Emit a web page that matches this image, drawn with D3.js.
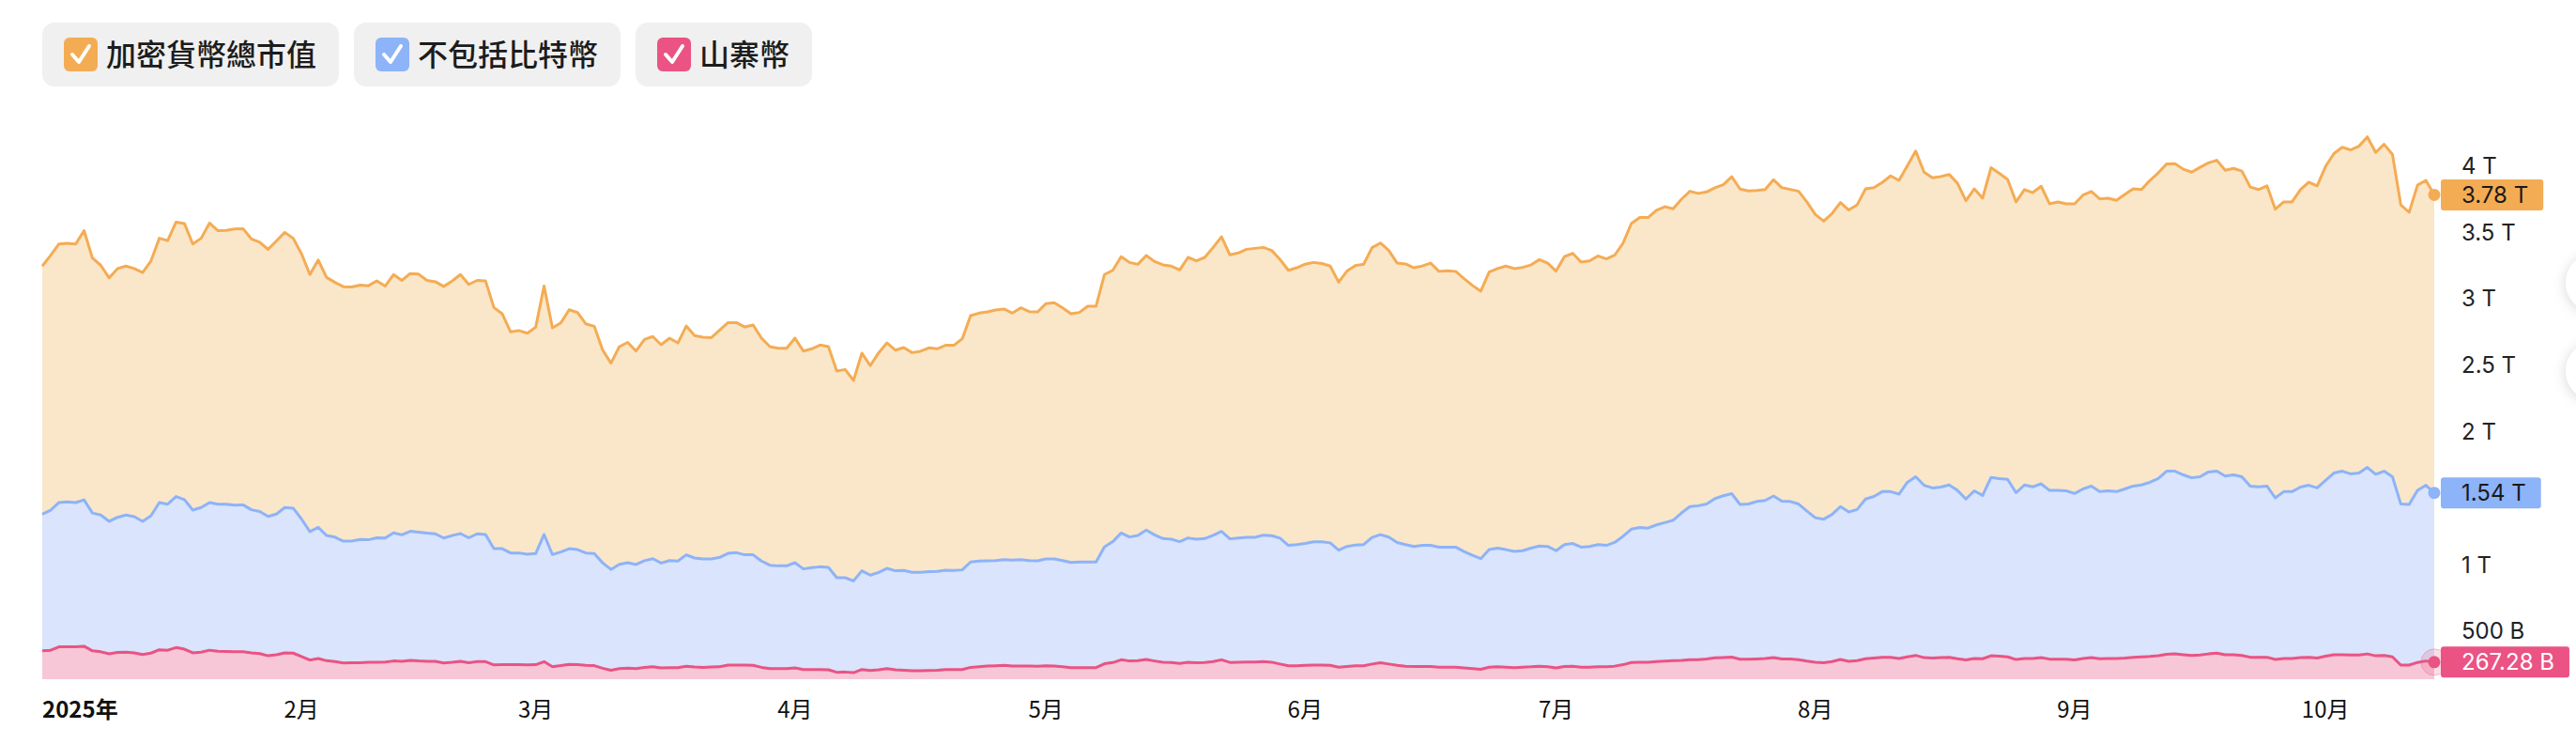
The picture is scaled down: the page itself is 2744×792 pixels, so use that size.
<!DOCTYPE html>
<html>
<head>
<meta charset="utf-8">
<script src="https://cdn.jsdelivr.net/npm/d3@7"></script>
<style>
  body { margin: 0; background: #fff; }
  svg { display: block; font-family: "Noto Sans CJK TC", "Noto Sans", sans-serif; }
  .tick-label { font-family: Inter, "Noto Sans", sans-serif; font-size: 24px; fill: #222; }
  .x-label { font-family: "Noto Sans CJK TC", sans-serif; font-size: 24px; fill: #111; }
</style>
</head>
<body>
<svg id="chart" width="2744" height="792"></svg>
<script>
// daily values in trillions USD, starting 2025-01-01
const startDate = new Date(2025, 0, 1)

const totalCap = [
  3.245, 3.325, 3.411, 3.416, 3.411, 3.511, 3.305, 3.250, 3.156, 3.226,
  3.245, 3.226, 3.196, 3.283, 3.454, 3.436, 3.575, 3.565, 3.411, 3.454,
  3.568, 3.511, 3.513, 3.523, 3.526, 3.449, 3.424, 3.370, 3.434, 3.498,
  3.454, 3.337, 3.181, 3.290, 3.159, 3.122, 3.090, 3.087, 3.102, 3.097,
  3.134, 3.094, 3.181, 3.137, 3.189, 3.184, 3.137, 3.127, 3.092, 3.132,
  3.181, 3.107, 3.137, 3.134, 2.933, 2.886, 2.750, 2.760, 2.740, 2.785,
  3.094, 2.780, 2.817, 2.916, 2.896, 2.810, 2.792, 2.614, 2.515, 2.639,
  2.671, 2.606, 2.693, 2.715, 2.653, 2.703, 2.667, 2.794, 2.722, 2.710,
  2.707, 2.764, 2.820, 2.820, 2.787, 2.802, 2.703, 2.639, 2.627, 2.627,
  2.703, 2.606, 2.623, 2.651, 2.639, 2.455, 2.467, 2.385, 2.590, 2.496,
  2.592, 2.667, 2.613, 2.632, 2.594, 2.604, 2.630, 2.623, 2.649, 2.649,
  2.698, 2.872, 2.891, 2.900, 2.915, 2.922, 2.891, 2.931, 2.903, 2.900,
  2.962, 2.969, 2.931, 2.886, 2.896, 2.943, 2.943, 3.181, 3.213, 3.315,
  3.272, 3.258, 3.324, 3.279, 3.254, 3.244, 3.216, 3.310, 3.284, 3.310,
  3.385, 3.465, 3.329, 3.343, 3.371, 3.378, 3.385, 3.362, 3.294, 3.213,
  3.232, 3.259, 3.272, 3.264, 3.245, 3.124, 3.207, 3.248, 3.259, 3.383,
  3.418, 3.362, 3.267, 3.261, 3.232, 3.245, 3.267, 3.205, 3.210, 3.205,
  3.151, 3.099, 3.056, 3.199, 3.226, 3.245, 3.226, 3.235, 3.253, 3.294,
  3.267, 3.207, 3.316, 3.340, 3.275, 3.283, 3.321, 3.299, 3.326, 3.416,
  3.564, 3.610, 3.610, 3.664, 3.691, 3.675, 3.748, 3.807, 3.791, 3.802,
  3.834, 3.856, 3.916, 3.824, 3.810, 3.813, 3.821, 3.894, 3.834, 3.821,
  3.807, 3.726, 3.632, 3.583, 3.640, 3.722, 3.666, 3.705, 3.825, 3.834,
  3.873, 3.923, 3.889, 3.998, 4.110, 3.951, 3.909, 3.917, 3.934, 3.867,
  3.736, 3.825, 3.755, 3.984, 3.942, 3.895, 3.727, 3.820, 3.797, 3.845,
  3.713, 3.727, 3.713, 3.713, 3.778, 3.806, 3.750, 3.755, 3.739, 3.783,
  3.825, 3.820, 3.889, 3.945, 4.012, 4.015, 3.973, 3.951, 3.987, 4.021,
  4.040, 3.965, 3.979, 3.959, 3.839, 3.820, 3.848, 3.672, 3.727, 3.727,
  3.820, 3.875, 3.848, 3.993, 4.090, 4.138, 4.118, 4.146, 4.216, 4.099,
  4.160, 4.085, 3.705, 3.649, 3.853, 3.889, 3.780
]

const exBitcoin = [
  1.380, 1.410, 1.467, 1.472, 1.467, 1.487, 1.388, 1.373, 1.326, 1.356,
  1.373, 1.361, 1.326, 1.368, 1.467, 1.455, 1.512, 1.489, 1.410, 1.430,
  1.467, 1.455, 1.455, 1.447, 1.450, 1.413, 1.400, 1.363, 1.380, 1.430,
  1.425, 1.343, 1.249, 1.281, 1.219, 1.207, 1.177, 1.177, 1.190, 1.187,
  1.202, 1.200, 1.239, 1.224, 1.251, 1.244, 1.237, 1.232, 1.200, 1.219,
  1.234, 1.202, 1.232, 1.227, 1.120, 1.120, 1.088, 1.088, 1.078, 1.083,
  1.227, 1.076, 1.095, 1.120, 1.113, 1.088, 1.083, 1.014, 0.964, 1.002,
  1.015, 1.001, 1.030, 1.045, 1.012, 1.031, 1.027, 1.074, 1.050, 1.043,
  1.043, 1.055, 1.085, 1.090, 1.074, 1.074, 1.027, 0.996, 0.991, 0.991,
  1.015, 0.968, 0.977, 0.984, 0.979, 0.902, 0.902, 0.878, 0.954, 0.921,
  0.942, 0.972, 0.954, 0.956, 0.942, 0.942, 0.947, 0.949, 0.958, 0.956,
  0.961, 1.020, 1.027, 1.029, 1.031, 1.038, 1.034, 1.038, 1.031, 1.029,
  1.043, 1.043, 1.031, 1.017, 1.020, 1.020, 1.020, 1.133, 1.173, 1.238,
  1.208, 1.220, 1.260, 1.224, 1.196, 1.191, 1.173, 1.201, 1.191, 1.196,
  1.220, 1.250, 1.194, 1.200, 1.205, 1.205, 1.222, 1.218, 1.199, 1.145,
  1.151, 1.159, 1.172, 1.172, 1.164, 1.110, 1.137, 1.148, 1.151, 1.205,
  1.226, 1.207, 1.167, 1.151, 1.137, 1.145, 1.145, 1.132, 1.132, 1.132,
  1.099, 1.070, 1.045, 1.113, 1.124, 1.113, 1.099, 1.105, 1.124, 1.140,
  1.137, 1.105, 1.151, 1.159, 1.132, 1.137, 1.151, 1.145, 1.167, 1.213,
  1.267, 1.280, 1.275, 1.299, 1.316, 1.334, 1.389, 1.437, 1.443, 1.456,
  1.497, 1.518, 1.534, 1.453, 1.456, 1.475, 1.483, 1.516, 1.478, 1.475,
  1.456, 1.402, 1.353, 1.342, 1.378, 1.437, 1.396, 1.415, 1.493, 1.513,
  1.549, 1.549, 1.530, 1.619, 1.661, 1.597, 1.577, 1.583, 1.599, 1.558,
  1.493, 1.555, 1.521, 1.655, 1.647, 1.641, 1.541, 1.599, 1.585, 1.608,
  1.558, 1.558, 1.555, 1.535, 1.569, 1.591, 1.549, 1.555, 1.549, 1.569,
  1.591, 1.599, 1.619, 1.647, 1.703, 1.703, 1.675, 1.653, 1.661, 1.697,
  1.703, 1.666, 1.675, 1.661, 1.591, 1.585, 1.591, 1.502, 1.549, 1.549,
  1.583, 1.597, 1.577, 1.633, 1.689, 1.703, 1.683, 1.689, 1.731, 1.680,
  1.703, 1.661, 1.457, 1.452, 1.558, 1.597, 1.540
]

const altcoins = [
  0.352, 0.357, 0.382, 0.382, 0.382, 0.387, 0.352, 0.345, 0.330, 0.340,
  0.342, 0.337, 0.325, 0.335, 0.360, 0.357, 0.377, 0.365, 0.337, 0.342,
  0.357, 0.350, 0.347, 0.345, 0.345, 0.337, 0.332, 0.315, 0.323, 0.337,
  0.335, 0.310, 0.283, 0.295, 0.278, 0.271, 0.261, 0.263, 0.263, 0.266,
  0.266, 0.268, 0.276, 0.273, 0.281, 0.276, 0.273, 0.273, 0.261, 0.266,
  0.273, 0.263, 0.271, 0.271, 0.246, 0.248, 0.248, 0.248, 0.246, 0.248,
  0.271, 0.233, 0.241, 0.251, 0.248, 0.243, 0.241, 0.221, 0.206, 0.218,
  0.222, 0.219, 0.227, 0.233, 0.224, 0.226, 0.226, 0.236, 0.231, 0.228,
  0.231, 0.233, 0.245, 0.245, 0.245, 0.243, 0.228, 0.219, 0.219, 0.219,
  0.224, 0.212, 0.212, 0.212, 0.210, 0.191, 0.193, 0.188, 0.212, 0.205,
  0.210, 0.219, 0.210, 0.207, 0.203, 0.203, 0.205, 0.207, 0.212, 0.212,
  0.212, 0.228, 0.233, 0.238, 0.240, 0.243, 0.238, 0.238, 0.238, 0.236,
  0.240, 0.238, 0.233, 0.226, 0.226, 0.226, 0.226, 0.255, 0.264, 0.285,
  0.276, 0.278, 0.287, 0.276, 0.266, 0.264, 0.257, 0.266, 0.262, 0.264,
  0.271, 0.285, 0.265, 0.267, 0.268, 0.268, 0.272, 0.267, 0.253, 0.240,
  0.240, 0.243, 0.245, 0.245, 0.243, 0.229, 0.235, 0.240, 0.240, 0.253,
  0.262, 0.253, 0.243, 0.237, 0.235, 0.235, 0.235, 0.229, 0.229, 0.229,
  0.224, 0.218, 0.213, 0.229, 0.232, 0.229, 0.226, 0.229, 0.232, 0.237,
  0.232, 0.224, 0.235, 0.237, 0.229, 0.229, 0.232, 0.232, 0.237, 0.248,
  0.264, 0.267, 0.267, 0.272, 0.275, 0.278, 0.280, 0.286, 0.286, 0.291,
  0.299, 0.302, 0.305, 0.289, 0.289, 0.291, 0.294, 0.302, 0.291, 0.291,
  0.286, 0.275, 0.267, 0.262, 0.271, 0.287, 0.273, 0.279, 0.293, 0.298,
  0.304, 0.304, 0.295, 0.307, 0.318, 0.301, 0.298, 0.301, 0.304, 0.293,
  0.284, 0.295, 0.293, 0.315, 0.312, 0.307, 0.287, 0.295, 0.295, 0.301,
  0.290, 0.290, 0.290, 0.284, 0.295, 0.301, 0.293, 0.295, 0.295, 0.298,
  0.304, 0.307, 0.310, 0.315, 0.326, 0.329, 0.323, 0.318, 0.321, 0.329,
  0.335, 0.323, 0.323, 0.318, 0.304, 0.304, 0.304, 0.287, 0.295, 0.295,
  0.301, 0.304, 0.298, 0.312, 0.323, 0.323, 0.321, 0.321, 0.329, 0.315,
  0.318, 0.307, 0.245, 0.245, 0.265, 0.276, 0.26728
]

const seriesNames = ['加密貨幣總市值', '不包括比特幣', '山寨幣']
const lineColors = ['#f4ac54', '#8db3f9', '#ea5384']
const fillColors = ['#fae7ca', '#dae4fc', '#f7c7d7']
const badgeText = ['#1a1a1a', '#1a1a1a', '#ffffff']
const yTicks = [0.5, 1, 1.5, 2, 2.5, 3, 3.5, 4]

const fmtVal = v => v < 1 ? `${(v * 1000).toFixed(2).replace(/\.00$/, '')} B` : `${+v.toFixed(2)} T`
const fmtTick = v => v < 1 ? `${v * 1000} B` : `${v} T`

const series = [totalCap, exBitcoin, altcoins].map((vals, k) => ({
    name: seriesNames[k],
    values: vals.map((v, i) => ({ date: d3.timeDay.offset(startDate, i), value: v }))
}))

const svg = d3.select('#chart')
const plotLeft = 45, plotRight = 2593, plotBottom = 723

const x = d3.scaleTime()
    .domain([startDate, d3.timeDay.offset(startDate, totalCap.length - 1)])
    .range([plotLeft, plotRight])

const y = d3.scaleLinear()
    .domain([0, 4])
    .range([742.7, 176.3])

// side control circles peeking in at right edge
const defs = svg.append('defs')
const shadow = defs.append('filter').attr('id', 'shadow')
    .attr('x', '-50%').attr('y', '-50%').attr('width', '200%').attr('height', '200%')
shadow.append('feDropShadow').attr('dx', 0).attr('dy', 2).attr('stdDeviation', 7)
    .attr('flood-color', '#000').attr('flood-opacity', 0.16)
svg.selectAll('.side-btn')
    .data([301, 395])
  .join('circle')
    .attr('class', 'side-btn')
    .attr('cx', 2764).attr('cy', d => d).attr('r', 31)
    .attr('fill', '#fff')
    .attr('filter', 'url(#shadow)')

// areas and lines
const area = d3.area()
    .x(d => x(d.date))
    .y0(plotBottom)
    .y1(d => y(d.value))
const line = d3.line()
    .x(d => x(d.date))
    .y(d => y(d.value))

series.forEach((s, k) => {
    svg.append('path')
        .datum(s.values)
        .attr('fill', fillColors[k])
        .attr('d', area)
    svg.append('path')
        .datum(s.values)
        .attr('fill', 'none')
        .attr('stroke', lineColors[k])
        .attr('stroke-width', 3)
        .attr('stroke-linejoin', 'round')
        .attr('d', line)
})

// y axis labels on the right, hidden where a value badge sits
const lastVals = series.map(s => s.values[s.values.length - 1].value)
const visibleTicks = yTicks.filter(t => lastVals.every(v => Math.abs(y(t) - y(v)) > 24))
svg.append('g')
  .selectAll('text')
  .data(visibleTicks)
  .join('text')
    .attr('class', 'tick-label')
    .attr('x', 2622)
    .attr('y', d => y(d))
    .attr('dy', '0.35em')
    .text(fmtTick)

// x axis labels
const months = x.ticks(d3.timeMonth.every(1))
svg.append('g')
  .selectAll('text')
  .data(months)
  .join('text')
    .attr('class', 'x-label')
    .attr('x', d => x(d))
    .attr('y', 764)
    .attr('text-anchor', d => d.getMonth() === 0 ? 'start' : 'middle')
    .style('font-weight', d => d.getMonth() === 0 ? 700 : 400)
    .text(d => d.getMonth() === 0 ? `${d.getFullYear()}年` : `${d.getMonth() + 1}月`)

// end markers and value badges
series.forEach((s, k) => {
    const last = s.values[s.values.length - 1]
    const cx = x(last.date), cy = y(last.value)
    if (k === 2) {
        svg.append('circle')
            .attr('cx', cx).attr('cy', cy).attr('r', 14)
            .attr('fill', lineColors[k]).attr('fill-opacity', 0.2)
            .attr('stroke', lineColors[k]).attr('stroke-opacity', 0.35)
    }
    svg.append('circle')
        .attr('cx', cx).attr('cy', cy).attr('r', 6.5)
        .attr('fill', lineColors[k])

    const g = svg.append('g')
    const rect = g.append('rect')
        .attr('fill', lineColors[k])
        .attr('rx', 3)
    const txt = g.append('text')
        .attr('class', 'tick-label')
        .attr('x', 2622)
        .attr('y', cy)
        .attr('dy', '0.35em')
        .style('fill', badgeText[k])
        .text(fmtVal(last.value))
    const w = txt.node().getComputedTextLength()
    rect.attr('x', 2600).attr('y', cy - 16.5)
        .attr('width', w + 38).attr('height', 33)
})

// legend
let lx = 45
seriesNames.forEach((name, k) => {
    const g = svg.append('g')
    const bg = g.append('rect')
        .attr('x', lx).attr('y', 24)
        .attr('height', 68).attr('rx', 13)
        .attr('fill', '#f0f0f0')
    g.append('rect')
        .attr('x', lx + 23).attr('y', 40)
        .attr('width', 36).attr('height', 36).attr('rx', 6)
        .attr('fill', lineColors[k])
    g.append('path')
        .attr('d', `M${lx + 32},${58} L${lx + 39},${66} L${lx + 50},${49}`)
        .attr('fill', 'none')
        .attr('stroke', '#fff')
        .attr('stroke-width', 4)
        .attr('stroke-linecap', 'round')
        .attr('stroke-linejoin', 'round')
    const t = g.append('text')
        .attr('x', lx + 68).attr('y', 58)
        .attr('dy', '0.36em')
        .style('font-size', '32px')
        .style('font-weight', 500)
        .style('fill', '#1c1c1c')
        .text(name)
    const w = t.node().getComputedTextLength()
    const bw = 68 + w + 24
    bg.attr('width', bw)
    lx += bw + 16
})
</script>
</body>
</html>
